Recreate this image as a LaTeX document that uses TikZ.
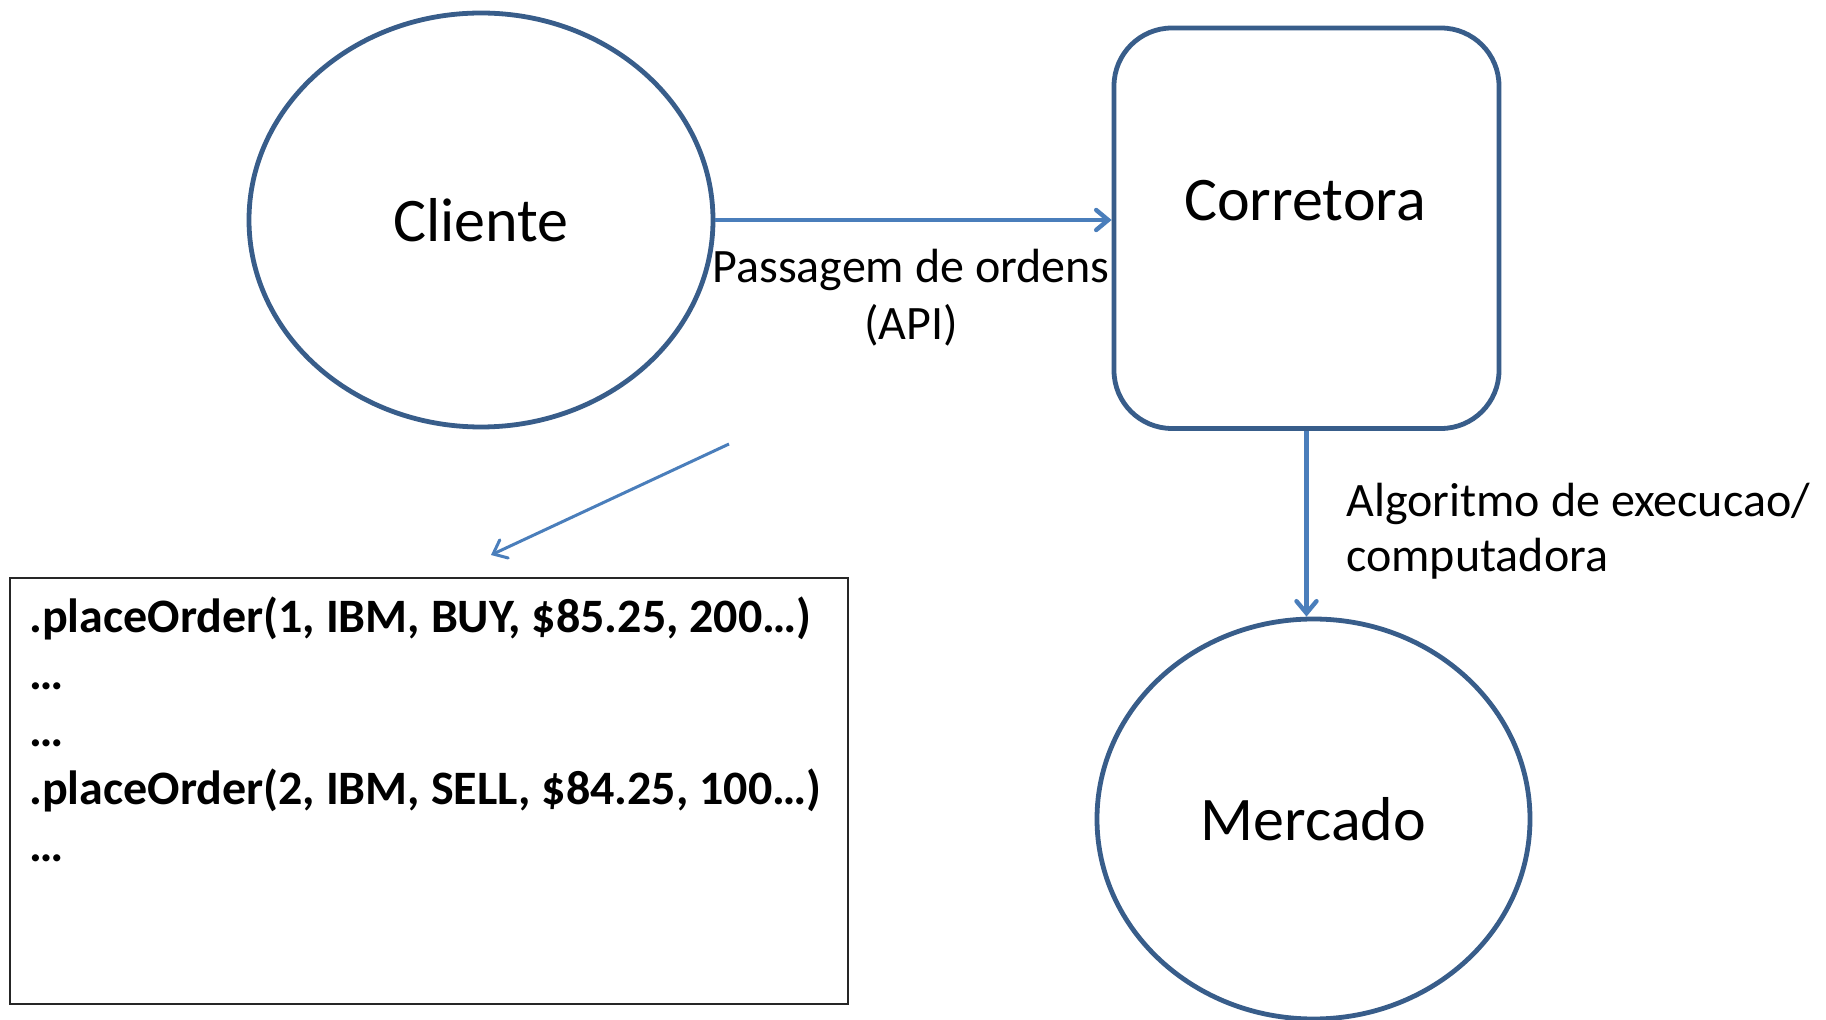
\documentclass[tikz,border=0pt]{standalone}
\usepackage{fontspec}
\setmainfont{Carlito}
\usetikzlibrary{shapes.geometric,arrows.meta}
\definecolor{shapeline}{HTML}{385D8A}
\definecolor{arrowline}{HTML}{4A7EBB}
\begin{document}
\begin{tikzpicture}[x=0.5pt,y=-0.5pt,
  shapebox/.style={draw=shapeline, line width=2.4pt, inner sep=0pt},
  bigtext/.style={font=\fontsize{31}{37}\selectfont},
  smalltext/.style={font=\fontsize{24}{28.5}\selectfont, inner sep=0pt},
  flow/.style={draw=arrowline, line width=2.2pt, -{Straight Barb[length=6pt,width=10pt,line cap=round]}},
  thinflow/.style={draw=arrowline, line width=1.5pt, -{Straight Barb[length=6pt,width=10pt,line cap=round]}}]
\path[use as bounding box, fill=white] (0,0) rectangle (1826,1020);
% shapes
\node (cliente) [shapebox, ellipse, minimum width=232pt, minimum height=207pt, bigtext] at (481,220) {Cliente};
\node (corretora) [shapebox, rectangle, rounded corners=29pt, minimum width=192.5pt, minimum height=200.25pt] at (1306.5,228.25) {};
\node (corretoraLbl) [bigtext, inner sep=0pt] at (1305,201) {Corretora};
\node (mercado) [shapebox, ellipse, minimum width=216.5pt, minimum height=200pt, bigtext] at (1313.5,819) {Mercado};
\node (codebox) [draw=black!85, line width=1.3pt, rectangle, minimum width=419pt, minimum height=213pt, inner sep=0pt] at (429,791) {};
% texts (base anchor = baseline of the last line)
\node (passagem) [smalltext, align=center, anchor=base] at (911,340) {Passagem de ordens\\(API)};
\node (algoritmo) [smalltext, align=left, anchor=base west, font=\fontsize{24}{27.5}\selectfont] at (1346,572) {Algoritmo de execucao/\\computadora};
\node (codetext) [inner sep=0pt, align=left, anchor=base west, font=\bfseries\fontsize{24}{28.75}\selectfont] at (29,862)
  {.placeOrder(1, IBM, BUY, \$85.25, 200…)\\…\\…\\.placeOrder(2, IBM, SELL, \$84.25, 100…)\\…};
% connectors
\draw[flow] (cliente.east) -- (cliente.east -| corretora.west);
\draw[flow] (corretora.south) -- (corretora.south |- mercado.north);
\coordinate (dstart) at (729,444);
\coordinate (dend) at (491,555);
\draw[thinflow] (dstart) -- (dend);
\end{tikzpicture}
\end{document}
